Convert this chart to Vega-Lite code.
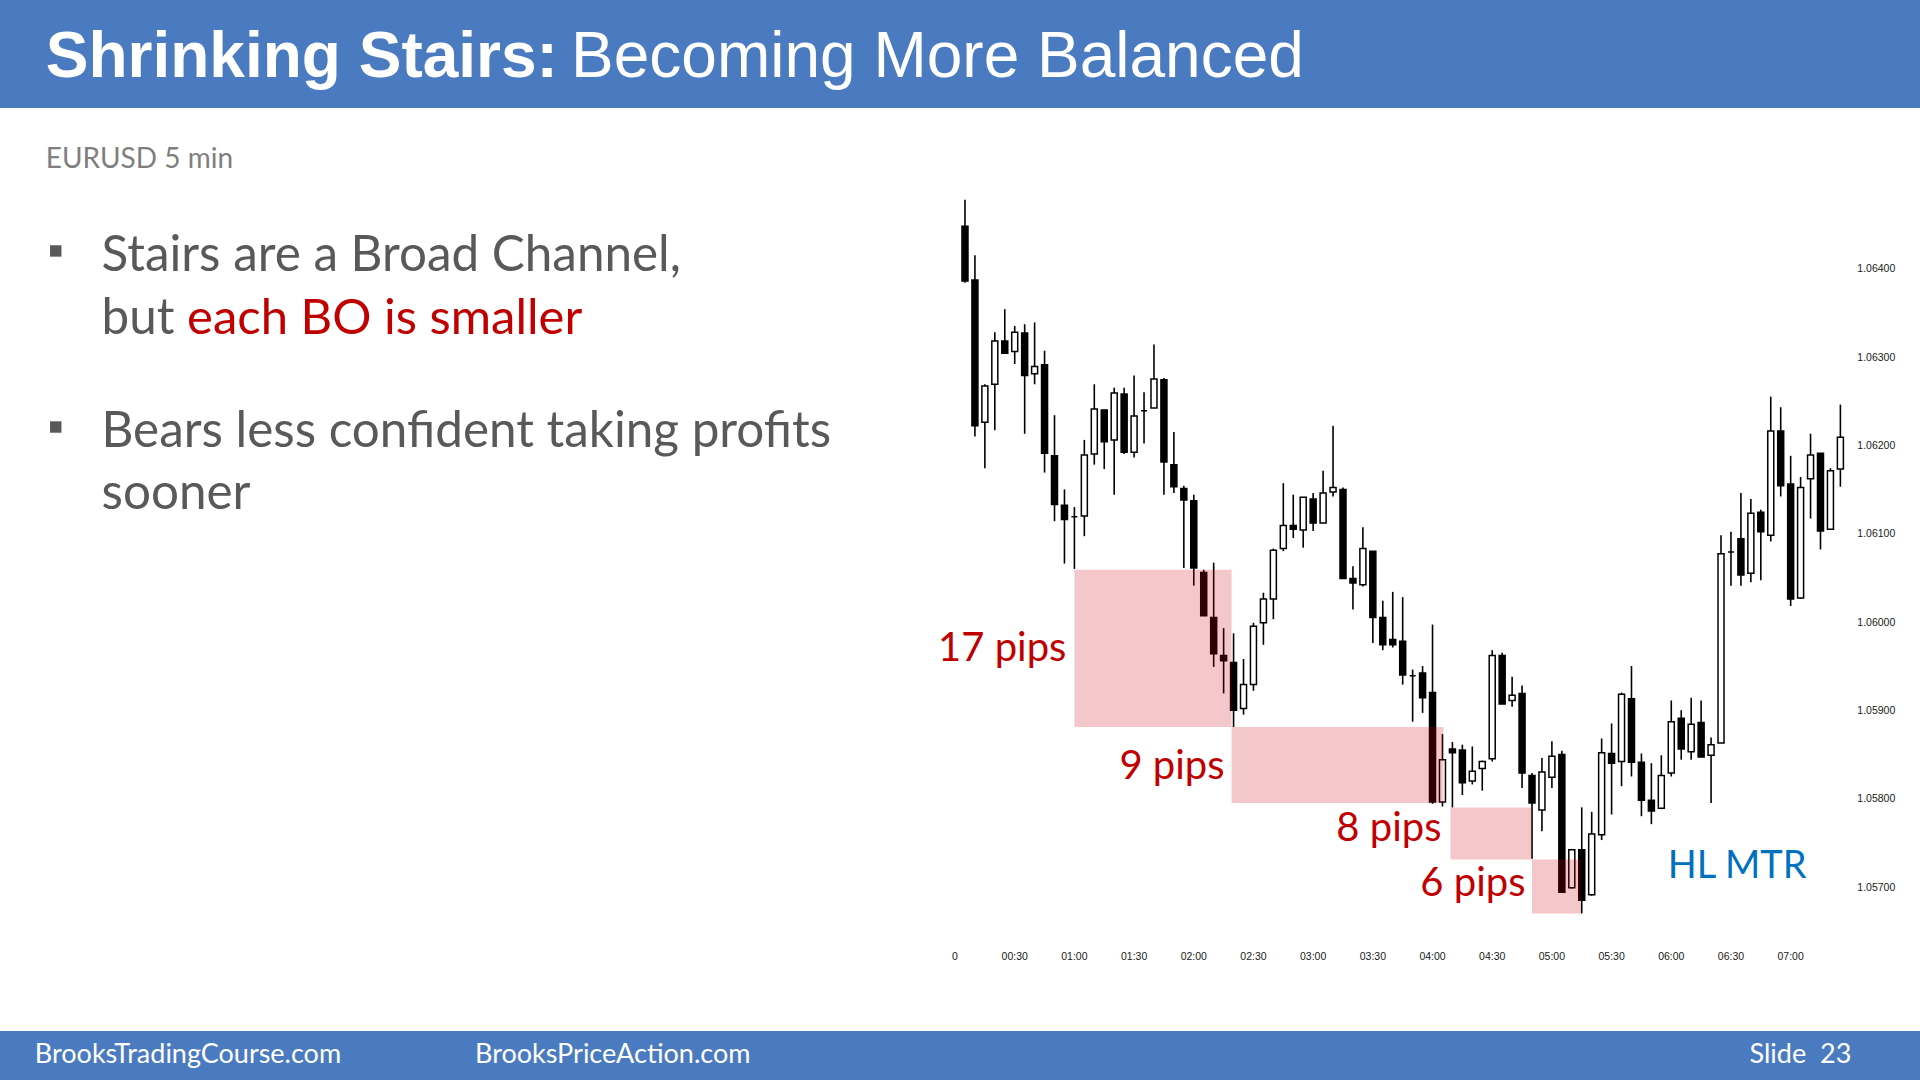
{
  "$schema": "https://vega.github.io/schema/vega-lite/v6.json",
  "width": 1920,
  "height": 1080,
  "autosize": {"type": "none"},
  "padding": 0,
  "background": "white",
  "config": {"view": {"stroke": null}, "font": "Lato"},
  "datasets": {
    "candles": [
      {"t":5,"o":1.06449,"h":1.06479,"l":1.06385,"c":1.06387},
      {"t":10,"o":1.06388,"h":1.06416,"l":1.06211,"c":1.06223},
      {"t":15,"o":1.06227,"h":1.0627,"l":1.06175,"c":1.06268},
      {"t":20,"o":1.0627,"h":1.06329,"l":1.06218,"c":1.06319},
      {"t":25,"o":1.06319,"h":1.06355,"l":1.06305,"c":1.06305},
      {"t":30,"o":1.06307,"h":1.06336,"l":1.06293,"c":1.06329},
      {"t":35,"o":1.06328,"h":1.06338,"l":1.06214,"c":1.0628},
      {"t":40,"o":1.06282,"h":1.0634,"l":1.0627,"c":1.0629},
      {"t":45,"o":1.06292,"h":1.06308,"l":1.0617,"c":1.06192},
      {"t":50,"o":1.06189,"h":1.06235,"l":1.06115,"c":1.06134},
      {"t":55,"o":1.06133,"h":1.06151,"l":1.06067,"c":1.06117},
      {"t":60,"o":1.0612,"h":1.06131,"l":1.06061,"c":1.0612},
      {"t":65,"o":1.06121,"h":1.06207,"l":1.06098,"c":1.0619},
      {"t":70,"o":1.06191,"h":1.0627,"l":1.06179,"c":1.06242},
      {"t":75,"o":1.06241,"h":1.06241,"l":1.06174,"c":1.06205},
      {"t":80,"o":1.06207,"h":1.06266,"l":1.06145,"c":1.0626},
      {"t":85,"o":1.06259,"h":1.06266,"l":1.06191,"c":1.06193},
      {"t":90,"o":1.06193,"h":1.0628,"l":1.06187,"c":1.06234},
      {"t":95,"o":1.0624,"h":1.06261,"l":1.06203,"c":1.0624},
      {"t":100,"o":1.06243,"h":1.06315,"l":1.06243,"c":1.06276},
      {"t":105,"o":1.06275,"h":1.06277,"l":1.06145,"c":1.06182},
      {"t":110,"o":1.06179,"h":1.06216,"l":1.06147,"c":1.06154},
      {"t":115,"o":1.06152,"h":1.06155,"l":1.06062,"c":1.06139},
      {"t":120,"o":1.06138,"h":1.06145,"l":1.06042,"c":1.06062},
      {"t":125,"o":1.06057,"h":1.0606,"l":1.06008,"c":1.06008},
      {"t":130,"o":1.06006,"h":1.06068,"l":1.0595,"c":1.05965},
      {"t":135,"o":1.05963,"h":1.05994,"l":1.0592,"c":1.05957},
      {"t":140,"o":1.05955,"h":1.05988,"l":1.05882,"c":1.05901},
      {"t":145,"o":1.05903,"h":1.05959,"l":1.05896,"c":1.0593},
      {"t":150,"o":1.0593,"h":1.06,"l":1.05923,"c":1.05996},
      {"t":155,"o":1.06,"h":1.06034,"l":1.05975,"c":1.06027},
      {"t":160,"o":1.06027,"h":1.06084,"l":1.06004,"c":1.06082},
      {"t":165,"o":1.06084,"h":1.06158,"l":1.06081,"c":1.0611},
      {"t":170,"o":1.0611,"h":1.06145,"l":1.06096,"c":1.06106},
      {"t":175,"o":1.06105,"h":1.06142,"l":1.06085,"c":1.06142},
      {"t":180,"o":1.0614,"h":1.06147,"l":1.06104,"c":1.06113},
      {"t":185,"o":1.06113,"h":1.06172,"l":1.06113,"c":1.06147},
      {"t":190,"o":1.06148,"h":1.06223,"l":1.06143,"c":1.06153},
      {"t":195,"o":1.06151,"h":1.06153,"l":1.0605,"c":1.0605},
      {"t":200,"o":1.0605,"h":1.06064,"l":1.06015,"c":1.06045},
      {"t":205,"o":1.06043,"h":1.06108,"l":1.06041,"c":1.06084},
      {"t":210,"o":1.06081,"h":1.06081,"l":1.05977,"c":1.06006},
      {"t":215,"o":1.06006,"h":1.06025,"l":1.05969,"c":1.05975},
      {"t":220,"o":1.05981,"h":1.06035,"l":1.05972,"c":1.05975},
      {"t":225,"o":1.05979,"h":1.06029,"l":1.0593,"c":1.05941},
      {"t":230,"o":1.0594,"h":1.05947,"l":1.05888,"c":1.0594},
      {"t":235,"o":1.05943,"h":1.05951,"l":1.05898,"c":1.05915},
      {"t":240,"o":1.05921,"h":1.05998,"l":1.05795,"c":1.05797},
      {"t":245,"o":1.05797,"h":1.05874,"l":1.05792,"c":1.05845},
      {"t":250,"o":1.05857,"h":1.05865,"l":1.05791,"c":1.05853},
      {"t":255,"o":1.05856,"h":1.05862,"l":1.05805,"c":1.05819},
      {"t":260,"o":1.05821,"h":1.0586,"l":1.05817,"c":1.05832},
      {"t":265,"o":1.05835,"h":1.05844,"l":1.0581,"c":1.05843},
      {"t":270,"o":1.05846,"h":1.05969,"l":1.05843,"c":1.05963},
      {"t":275,"o":1.05963,"h":1.05966,"l":1.05908,"c":1.05908},
      {"t":280,"o":1.05912,"h":1.05939,"l":1.05905,"c":1.05918},
      {"t":285,"o":1.0592,"h":1.05929,"l":1.05813,"c":1.0583},
      {"t":290,"o":1.05827,"h":1.0583,"l":1.05733,"c":1.05796},
      {"t":295,"o":1.05788,"h":1.05847,"l":1.05764,"c":1.05831},
      {"t":300,"o":1.05825,"h":1.05866,"l":1.05813,"c":1.05849},
      {"t":305,"o":1.05851,"h":1.05855,"l":1.05694,"c":1.05695},
      {"t":310,"o":1.057,"h":1.05744,"l":1.05699,"c":1.05743},
      {"t":315,"o":1.05743,"h":1.05791,"l":1.05671,"c":1.05686},
      {"t":320,"o":1.05692,"h":1.05786,"l":1.05691,"c":1.05761},
      {"t":325,"o":1.0576,"h":1.05869,"l":1.05754,"c":1.05853},
      {"t":330,"o":1.05852,"h":1.05886,"l":1.05783,"c":1.05841},
      {"t":335,"o":1.05843,"h":1.05921,"l":1.05815,"c":1.05919},
      {"t":340,"o":1.05914,"h":1.05951,"l":1.05826,"c":1.05842},
      {"t":345,"o":1.05842,"h":1.05852,"l":1.05781,"c":1.05799},
      {"t":350,"o":1.05799,"h":1.05841,"l":1.05772,"c":1.05787},
      {"t":355,"o":1.0579,"h":1.0585,"l":1.05789,"c":1.05827},
      {"t":360,"o":1.0583,"h":1.05912,"l":1.05826,"c":1.05888},
      {"t":365,"o":1.05892,"h":1.05901,"l":1.05845,"c":1.05857},
      {"t":370,"o":1.05854,"h":1.05915,"l":1.05845,"c":1.05885},
      {"t":375,"o":1.05887,"h":1.05912,"l":1.05848,"c":1.05848},
      {"t":380,"o":1.0585,"h":1.0587,"l":1.05796,"c":1.05862},
      {"t":385,"o":1.05864,"h":1.06099,"l":1.05864,"c":1.06078},
      {"t":390,"o":1.0608,"h":1.06103,"l":1.06042,"c":1.0608},
      {"t":395,"o":1.06095,"h":1.06147,"l":1.06042,"c":1.06054},
      {"t":400,"o":1.06056,"h":1.0614,"l":1.06046,"c":1.06124},
      {"t":405,"o":1.06125,"h":1.06128,"l":1.06048,"c":1.06103},
      {"t":410,"o":1.06099,"h":1.06256,"l":1.06092,"c":1.06217},
      {"t":415,"o":1.06217,"h":1.06244,"l":1.06143,"c":1.06155},
      {"t":420,"o":1.06157,"h":1.06189,"l":1.06019,"c":1.06027},
      {"t":425,"o":1.06028,"h":1.06165,"l":1.06027,"c":1.06153},
      {"t":430,"o":1.06163,"h":1.06214,"l":1.06118,"c":1.0619},
      {"t":435,"o":1.06192,"h":1.06192,"l":1.06083,"c":1.06104},
      {"t":440,"o":1.06106,"h":1.06175,"l":1.06106,"c":1.06172},
      {"t":445,"o":1.06174,"h":1.06247,"l":1.06154,"c":1.0621}
    ],
    "boxes": [
      {"x":60,"x2":139,"y":1.0606,"y2":1.05882},
      {"x":139,"x2":245.5,"y":1.05882,"y2":1.05796},
      {"x":249,"x2":290,"y":1.05791,"y2":1.05732},
      {"x":290,"x2":314.5,"y":1.05732,"y2":1.05671}
    ],
    "bands": [
      {"x":-600,"x2":600,"y":1.065827,"y2":1.068},
      {"x":-600,"x2":600,"y":1.055379,"y2":1.054}
    ],
    "xticks": [
      {"t":0,"label":"0"},{"t":30,"label":"00:30"},{"t":60,"label":"01:00"},{"t":90,"label":"01:30"},
      {"t":120,"label":"02:00"},{"t":150,"label":"02:30"},{"t":180,"label":"03:00"},{"t":210,"label":"03:30"},
      {"t":240,"label":"04:00"},{"t":270,"label":"04:30"},{"t":300,"label":"05:00"},{"t":330,"label":"05:30"},
      {"t":360,"label":"06:00"},{"t":390,"label":"06:30"},{"t":420,"label":"07:00"}
    ],
    "yticks": [
      {"p":1.057,"label":"1.05700"},{"p":1.058,"label":"1.05800"},{"p":1.059,"label":"1.05900"},{"p":1.06,"label":"1.06000"},
      {"p":1.061,"label":"1.06100"},{"p":1.062,"label":"1.06200"},{"p":1.063,"label":"1.06300"},{"p":1.064,"label":"1.06400"}
    ]
  },
  "layer": [
    {
      "data": {"name": "bands"},
      "mark": {"type": "rect", "color": "#4A7BC0"},
      "encoding": {
        "x": {"field": "x", "type": "quantitative", "scale": {"domain": [-477.5, 482.5], "nice": false, "zero": false}, "axis": null},
        "x2": {"field": "x2"},
        "y": {"field": "y", "type": "quantitative", "scale": {"domain": [1.054824, 1.06705], "nice": false, "zero": false}, "axis": null},
        "y2": {"field": "y2"}
      }
    },
    {
      "data": {"name": "xticks"},
      "mark": {"type": "text", "align": "center", "baseline": "middle", "font": "Liberation Sans", "fontSize": 10.5, "color": "#1a1a1a"},
      "encoding": {
        "x": {"field": "t", "type": "quantitative", "scale": {"domain": [-477.5, 482.5], "nice": false, "zero": false}, "axis": null},
        "y": {"datum": 1.056211, "type": "quantitative", "scale": {"domain": [1.054824, 1.06705], "nice": false, "zero": false}, "axis": null},
        "text": {"field": "label"}
      }
    },
    {
      "data": {"name": "yticks"},
      "mark": {"type": "text", "align": "left", "baseline": "middle", "font": "Liberation Sans", "fontSize": 10.5, "color": "#1a1a1a"},
      "encoding": {
        "x": {"datum": 453.5, "type": "quantitative", "scale": {"domain": [-477.5, 482.5], "nice": false, "zero": false}, "axis": null},
        "y": {"field": "p", "type": "quantitative", "scale": {"domain": [1.054824, 1.06705], "nice": false, "zero": false}, "axis": null},
        "text": {"field": "label"}
      }
    },
    {
      "data": {"name": "candles"},
      "mark": {"type": "rule", "color": "black", "strokeWidth": 1.6},
      "encoding": {
        "x": {"field": "t", "type": "quantitative", "scale": {"domain": [-477.5, 482.5], "nice": false, "zero": false}, "axis": null},
        "y": {"field": "l", "type": "quantitative", "scale": {"domain": [1.054824, 1.06705], "nice": false, "zero": false}, "axis": null},
        "y2": {"field": "h"}
      }
    },
    {
      "data": {"name": "candles"},
      "mark": {"type": "bar", "width": 6, "stroke": "black", "strokeWidth": 1.5},
      "encoding": {
        "x": {"field": "t", "type": "quantitative", "scale": {"domain": [-477.5, 482.5], "nice": false, "zero": false}, "axis": null},
        "y": {"field": "o", "type": "quantitative", "scale": {"domain": [1.054824, 1.06705], "nice": false, "zero": false}, "axis": null},
        "y2": {"field": "c"},
        "fill": {"condition": {"test": "datum.c < datum.o", "value": "black"}, "value": "white"}
      }
    },
    {
      "data": {"name": "boxes"},
      "mark": {"type": "rect", "color": "#CD0113", "opacity": 0.22},
      "encoding": {
        "x": {"field": "x", "type": "quantitative", "scale": {"domain": [-477.5, 482.5], "nice": false, "zero": false}, "axis": null},
        "x2": {"field": "x2"},
        "y": {"field": "y", "type": "quantitative", "scale": {"domain": [1.054824, 1.06705], "nice": false, "zero": false}, "axis": null},
        "y2": {"field": "y2"}
      }
    },
    {
      "data": {"values": [{"x": -457, "y": 1.066178, "text": "Shrinking Stairs:"}]},
      "mark": {"type": "text", "align": "left", "baseline": "alphabetic", "font": "Liberation Sans", "fontSize": 64, "fontWeight": "bold", "color": "white"},
      "encoding": {
        "x": {"field": "x", "type": "quantitative", "scale": {"domain": [-477.5, 482.5], "nice": false, "zero": false}, "axis": null},
        "y": {"field": "y", "type": "quantitative", "scale": {"domain": [1.054824, 1.06705], "nice": false, "zero": false}, "axis": null},
        "text": {"field": "text"}
      }
    },
    {
      "data": {"values": [{"x": -193, "y": 1.066178, "text": "Becoming More Balanced"}]},
      "mark": {"type": "text", "align": "left", "baseline": "alphabetic", "font": "Liberation Sans", "fontSize": 64, "color": "white"},
      "encoding": {
        "x": {"field": "x", "type": "quantitative", "scale": {"domain": [-477.5, 482.5], "nice": false, "zero": false}, "axis": null},
        "y": {"field": "y", "type": "quantitative", "scale": {"domain": [1.054824, 1.06705], "nice": false, "zero": false}, "axis": null},
        "text": {"field": "text"}
      }
    },
    {
      "data": {"values": [{"x": -457, "y": 1.065148, "text": "EURUSD 5 min"}]},
      "mark": {"type": "text", "align": "left", "baseline": "alphabetic", "font": "Lato", "fontSize": 28, "color": "#7F7F7F"},
      "encoding": {
        "x": {"field": "x", "type": "quantitative", "scale": {"domain": [-477.5, 482.5], "nice": false, "zero": false}, "axis": null},
        "y": {"field": "y", "type": "quantitative", "scale": {"domain": [1.054824, 1.06705], "nice": false, "zero": false}, "axis": null},
        "text": {"field": "text"}
      }
    },
    {
      "data": {"values": [{"x": -452, "y": 1.064209}, {"x": -452, "y": 1.062216}]},
      "mark": {"type": "point", "shape": "square", "filled": true, "size": 130, "color": "#595959", "opacity": 1},
      "encoding": {
        "x": {"field": "x", "type": "quantitative", "scale": {"domain": [-477.5, 482.5], "nice": false, "zero": false}, "axis": null},
        "y": {"field": "y", "type": "quantitative", "scale": {"domain": [1.054824, 1.06705], "nice": false, "zero": false}, "axis": null}
      }
    },
    {
      "data": {"values": [
        {"x": -429, "y": 1.063982, "text": "Stairs are a Broad Channel,"},
        {"x": -429, "y": 1.063269, "text": "but"},
        {"x": -429, "y": 1.06199, "text": "Bears less confident taking profits"},
        {"x": -429, "y": 1.061288, "text": "sooner"}
      ]},
      "mark": {"type": "text", "align": "left", "baseline": "alphabetic", "font": "Lato", "fontSize": 49.4, "color": "#595959"},
      "encoding": {
        "x": {"field": "x", "type": "quantitative", "scale": {"domain": [-477.5, 482.5], "nice": false, "zero": false}, "axis": null},
        "y": {"field": "y", "type": "quantitative", "scale": {"domain": [1.054824, 1.06705], "nice": false, "zero": false}, "axis": null},
        "text": {"field": "text"}
      }
    },
    {
      "data": {"values": [{"x": -386, "y": 1.063269, "text": "each BO is smaller"}]},
      "mark": {"type": "text", "align": "left", "baseline": "alphabetic", "font": "Lato", "fontSize": 49, "color": "#C00000"},
      "encoding": {
        "x": {"field": "x", "type": "quantitative", "scale": {"domain": [-477.5, 482.5], "nice": false, "zero": false}, "axis": null},
        "y": {"field": "y", "type": "quantitative", "scale": {"domain": [1.054824, 1.06705], "nice": false, "zero": false}, "axis": null},
        "text": {"field": "text"}
      }
    },
    {
      "data": {"values": [
        {"x": 56, "y": 1.059567, "text": "17 pips"},
        {"x": 135.5, "y": 1.058232, "text": "9 pips"},
        {"x": 244.5, "y": 1.05753, "text": "8 pips"},
        {"x": 286.75, "y": 1.056907, "text": "6 pips"}
      ]},
      "mark": {"type": "text", "align": "right", "baseline": "alphabetic", "font": "Lato", "fontSize": 40, "color": "#C00000"},
      "encoding": {
        "x": {"field": "x", "type": "quantitative", "scale": {"domain": [-477.5, 482.5], "nice": false, "zero": false}, "axis": null},
        "y": {"field": "y", "type": "quantitative", "scale": {"domain": [1.054824, 1.06705], "nice": false, "zero": false}, "axis": null},
        "text": {"field": "text"}
      }
    },
    {
      "data": {"values": [{"x": 358.25, "y": 1.057111, "text": "HL MTR"}]},
      "mark": {"type": "text", "align": "left", "baseline": "alphabetic", "font": "Lato", "fontSize": 38, "color": "#0070C0"},
      "encoding": {
        "x": {"field": "x", "type": "quantitative", "scale": {"domain": [-477.5, 482.5], "nice": false, "zero": false}, "axis": null},
        "y": {"field": "y", "type": "quantitative", "scale": {"domain": [1.054824, 1.06705], "nice": false, "zero": false}, "axis": null},
        "text": {"field": "text"}
      }
    },
    {
      "data": {"values": [
        {"x": -462.5, "y": 1.055017, "text": "BrooksTradingCourse.com"},
        {"x": -241.25, "y": 1.055017, "text": "BrooksPriceAction.com"}
      ]},
      "mark": {"type": "text", "align": "left", "baseline": "alphabetic", "font": "Lato", "fontSize": 27, "color": "white"},
      "encoding": {
        "x": {"field": "x", "type": "quantitative", "scale": {"domain": [-477.5, 482.5], "nice": false, "zero": false}, "axis": null},
        "y": {"field": "y", "type": "quantitative", "scale": {"domain": [1.054824, 1.06705], "nice": false, "zero": false}, "axis": null},
        "text": {"field": "text"}
      }
    },
    {
      "data": {"values": [{"x": 450.5, "y": 1.055017, "text": "Slide \u00a023"}]},
      "mark": {"type": "text", "align": "right", "baseline": "alphabetic", "font": "Lato", "fontSize": 27, "color": "white"},
      "encoding": {
        "x": {"field": "x", "type": "quantitative", "scale": {"domain": [-477.5, 482.5], "nice": false, "zero": false}, "axis": null},
        "y": {"field": "y", "type": "quantitative", "scale": {"domain": [1.054824, 1.06705], "nice": false, "zero": false}, "axis": null},
        "text": {"field": "text"}
      }
    }
  ]
}
